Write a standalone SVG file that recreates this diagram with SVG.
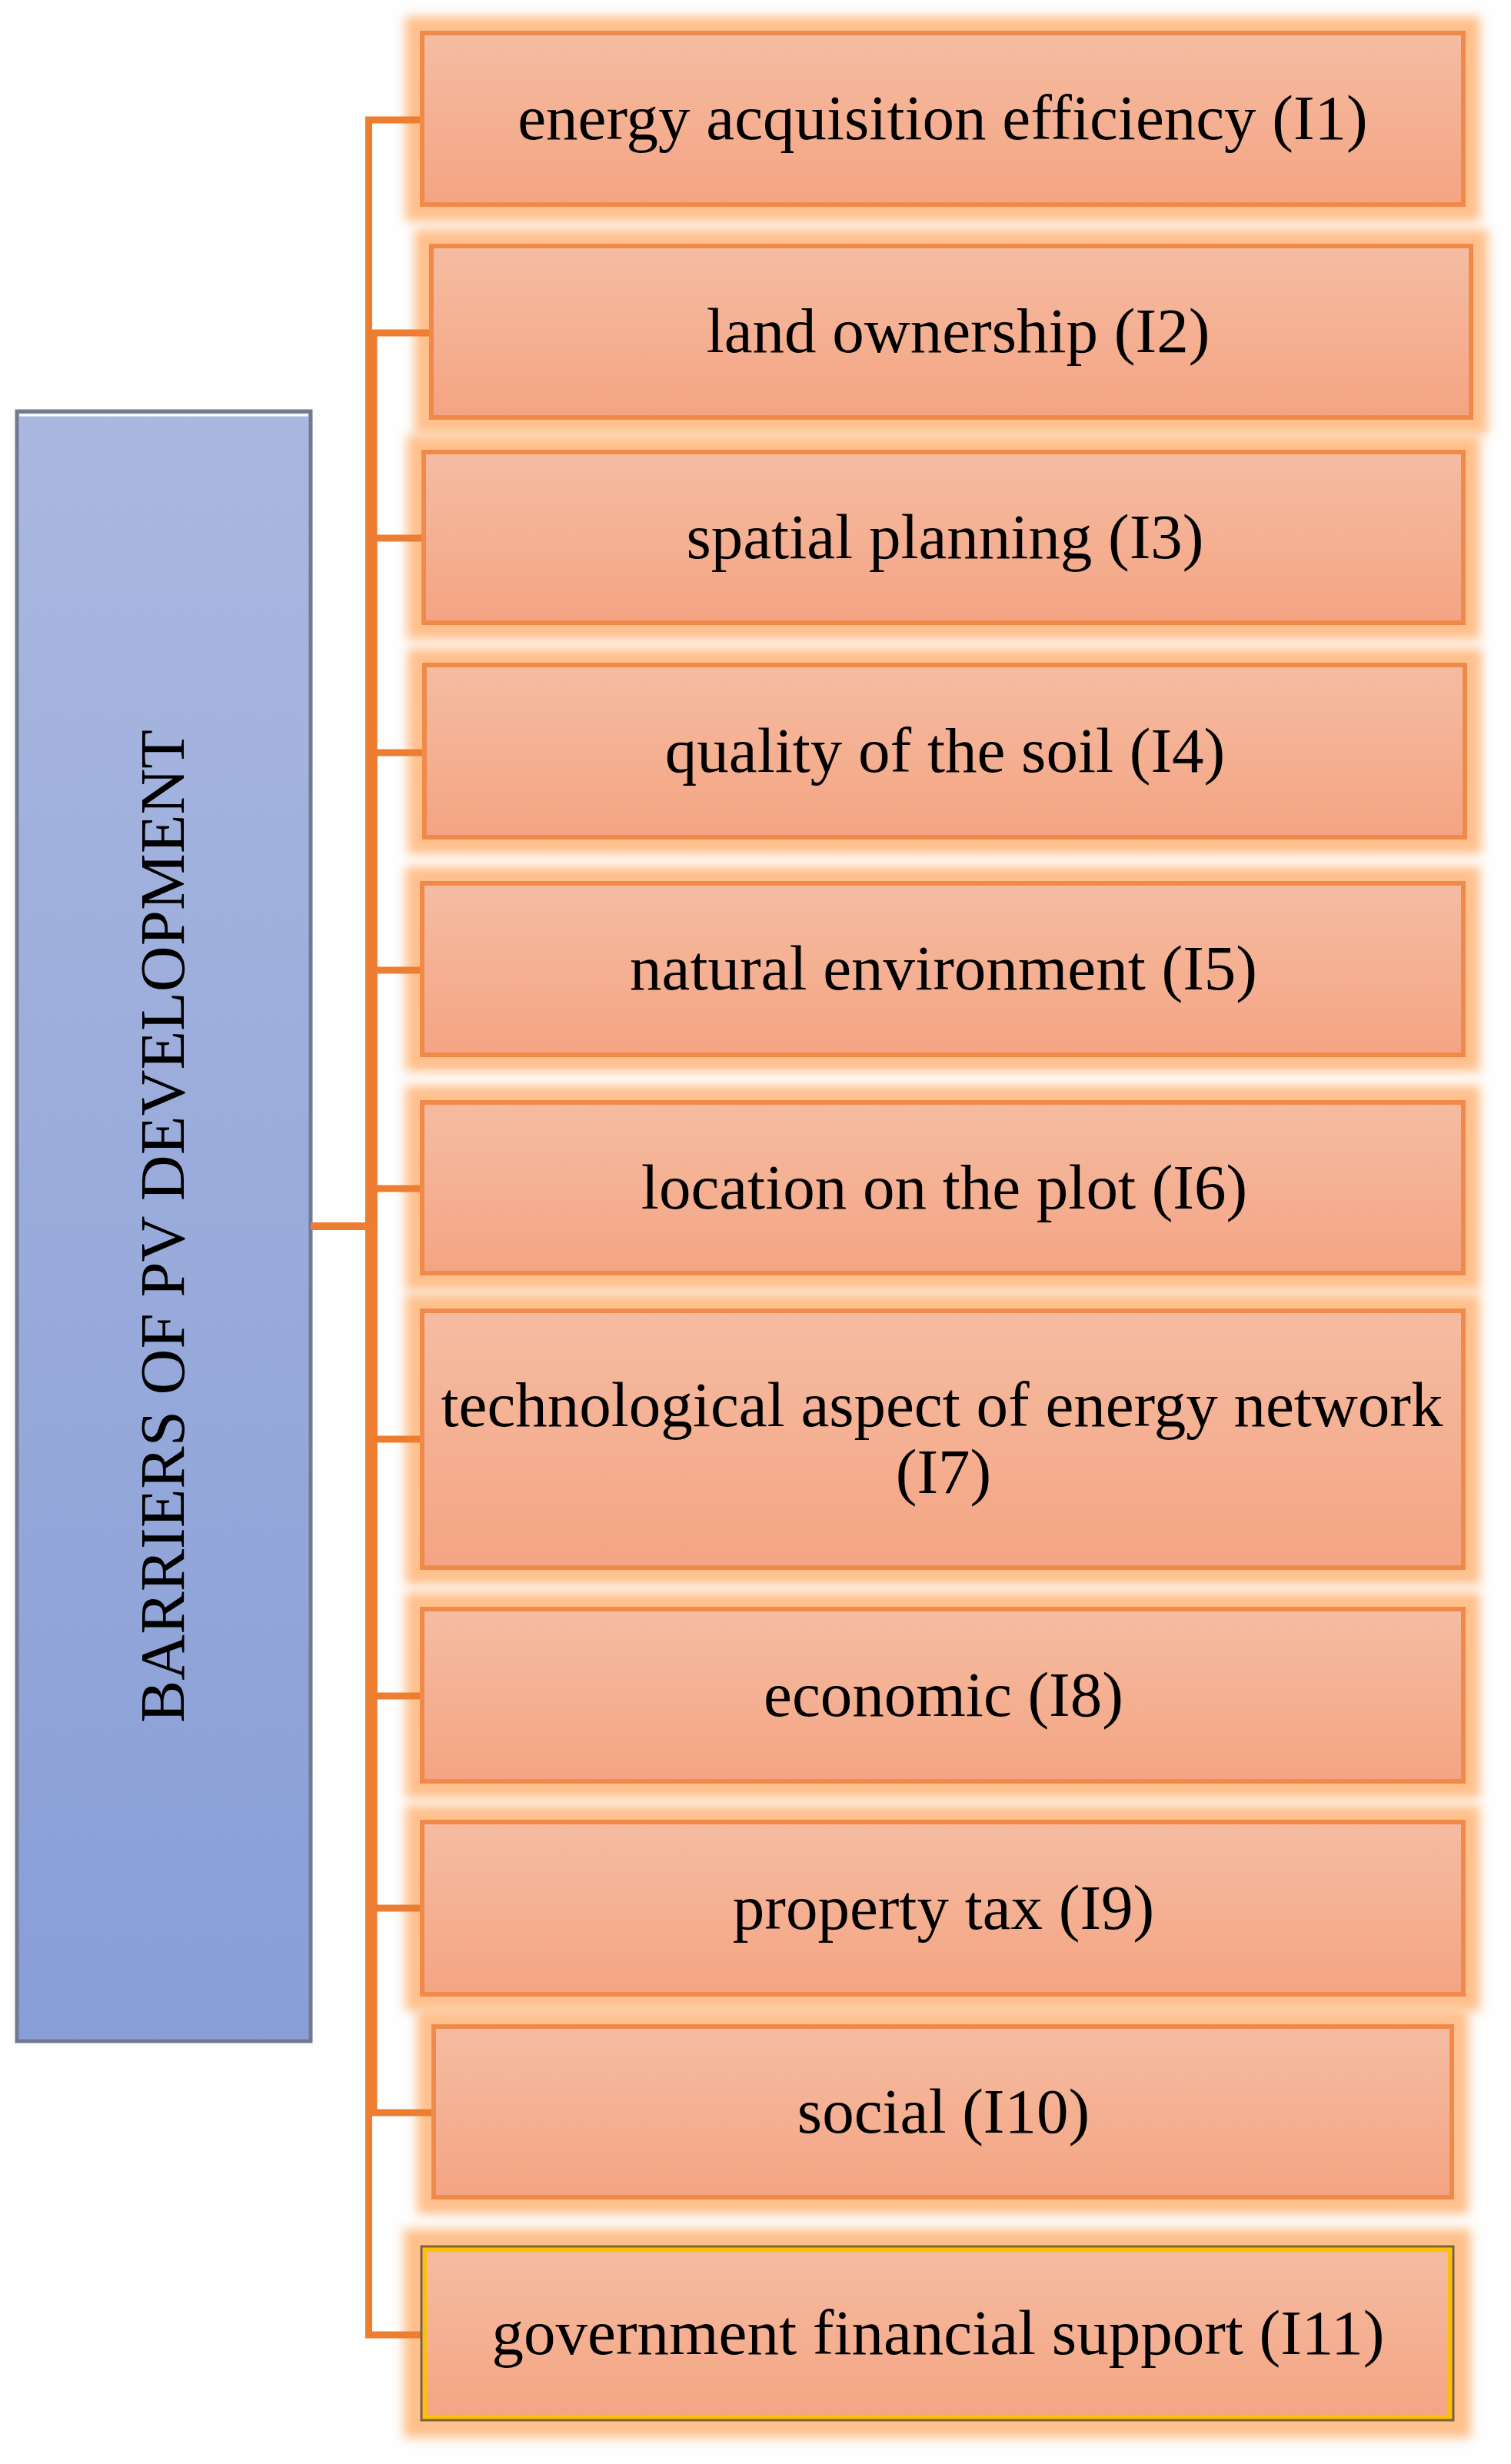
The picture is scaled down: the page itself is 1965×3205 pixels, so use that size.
<svg xmlns="http://www.w3.org/2000/svg" width="1965" height="3205" viewBox="0 0 1965 3205">
  <defs>
    <linearGradient id="boxFill" x1="0" y1="0" x2="0" y2="1">
      <stop offset="0" stop-color="#F5BCA2"/>
      <stop offset="1" stop-color="#F4A483"/>
    </linearGradient>
    <linearGradient id="rootFill" x1="0" y1="0" x2="0" y2="1">
      <stop offset="0" stop-color="#AAB8E0"/>
      <stop offset="1" stop-color="#889ED6"/>
    </linearGradient>
    <filter id="glow" x="-10%" y="-50%" width="120%" height="200%">
      <feMorphology in="SourceAlpha" operator="dilate" radius="22" result="d"/>
      <feGaussianBlur in="d" stdDeviation="7" result="b"/>
      <feFlood flood-color="#FFC08C"/>
      <feComposite in2="b" operator="in"/>
    </filter>
    <style>
      .glow { fill: #000; filter: url(#glow); }
      .box { fill: url(#boxFill); stroke: #F08A4B; stroke-width: 6; }
      .lbl { font-family: "Liberation Serif", "Times New Roman", serif; font-size: 83px; fill: #000; text-anchor: middle; }
      .conn { fill: none; stroke: #ED7D31; stroke-width: 9; stroke-linejoin: miter; stroke-linecap: butt; }
    </style>
  </defs>
  <rect x="0" y="0" width="1965" height="3205" fill="#FEFEFE"/>

  <g id="root">
    <rect x="22" y="535" width="382" height="2120" fill="url(#rootFill)" stroke="#727A92" stroke-width="5"/>
    <line x1="25" y1="540" x2="401" y2="540" stroke="#FFFFFF" stroke-width="3"/>
    <text class="lbl" transform="translate(239,1595) rotate(-90)" x="0" y="0">BARRIERS OF PV DEVELOPMENT</text>
  </g>

  <g id="glows">
    <rect class="glow" x="549" y="43" width="1354" height="223"/>
    <rect class="glow" x="561" y="320" width="1352" height="223"/>
    <rect class="glow" x="551" y="588" width="1352" height="222"/>
    <rect class="glow" x="552" y="865" width="1353" height="224"/>
    <rect class="glow" x="549" y="1149" width="1354" height="223"/>
    <rect class="glow" x="549" y="1434" width="1354" height="222"/>
    <rect class="glow" x="549" y="1705" width="1354" height="334"/>
    <rect class="glow" x="549" y="2093" width="1354" height="224"/>
    <rect class="glow" x="549" y="2370" width="1354" height="224"/>
    <rect class="glow" x="564" y="2636" width="1324" height="222"/>
    <rect class="glow" x="547" y="2921" width="1344" height="228"/>
  </g>

  <g id="connectors">
    <path class="conn" d="M404,1595 H479.5 V156 H552"/>
    <path class="conn" d="M404,1595 H486 V433 H564"/>
    <path class="conn" d="M404,1595 H486 V700 H554"/>
    <path class="conn" d="M404,1595 H486 V979 H555"/>
    <path class="conn" d="M404,1595 H486 V1262 H552"/>
    <path class="conn" d="M404,1595 H486 V1546 H552"/>
    <path class="conn" d="M404,1595 H486 V1872 H552"/>
    <path class="conn" d="M404,1595 H486 V2206 H552"/>
    <path class="conn" d="M404,1595 H486 V2482 H552"/>
    <path class="conn" d="M404,1595 H486 V2748 H567"/>
    <path class="conn" d="M404,1595 H479.5 V3037 H550"/>
  </g>

  <g id="n1">
    <rect class="box" x="549" y="43" width="1354" height="223"/>
    <text class="lbl" x="1226" y="181">energy acquisition efficiency (I1)</text>
  </g>
  <g id="n2">
    <rect class="box" x="561" y="320" width="1352" height="223"/>
    <text class="lbl" x="1246" y="458">land ownership (I2)</text>
  </g>
  <g id="n3">
    <rect class="box" x="551" y="588" width="1352" height="222"/>
    <text class="lbl" x="1229" y="726">spatial planning (I3)</text>
  </g>
  <g id="n4">
    <rect class="box" x="552" y="865" width="1353" height="224"/>
    <text class="lbl" x="1229" y="1004">quality of the soil (I4)</text>
  </g>
  <g id="n5">
    <rect class="box" x="549" y="1149" width="1354" height="223"/>
    <text class="lbl" x="1227" y="1287">natural environment (I5)</text>
  </g>
  <g id="n6">
    <rect class="box" x="549" y="1434" width="1354" height="222"/>
    <text class="lbl" x="1228" y="1572">location on the plot (I6)</text>
  </g>
  <g id="n7">
    <rect class="box" x="549" y="1705" width="1354" height="334"/>
    <text class="lbl" x="1225" y="1855">technological aspect of energy network</text>
    <text class="lbl" x="1227" y="1942">(I7)</text>
  </g>
  <g id="n8">
    <rect class="box" x="549" y="2093" width="1354" height="224"/>
    <text class="lbl" x="1227" y="2232">economic (I8)</text>
  </g>
  <g id="n9">
    <rect class="box" x="549" y="2370" width="1354" height="224"/>
    <text class="lbl" x="1227" y="2509">property tax (I9)</text>
  </g>
  <g id="n10">
    <rect class="box" x="564" y="2636" width="1324" height="222"/>
    <text class="lbl" x="1227" y="2774">social (I10)</text>
  </g>
  <g id="n11">
    <rect x="548" y="2922" width="1342" height="226" fill="url(#boxFill)" stroke="#7A6533" stroke-width="3"/>
    <rect x="552.5" y="2926.5" width="1333" height="217" fill="none" stroke="#FFC000" stroke-width="5"/>
    <text class="lbl" x="1220" y="3062">government financial support (I11)</text>
  </g>
</svg>
